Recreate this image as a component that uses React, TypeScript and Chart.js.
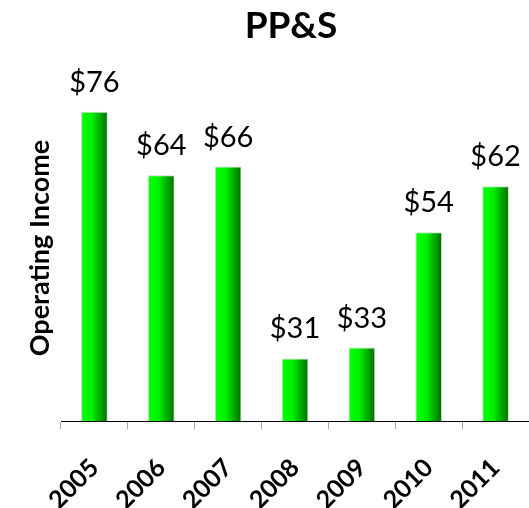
import React, { useEffect, useRef } from "react";
import { Chart, registerables } from "chart.js";

Chart.register(...registerables);

const categories = ["2005", "2006", "2007", "2008", "2009", "2010", "2011"];
const operatingIncome = [76, 64.4, 66, 31, 33, 54, 62.4];
const yMin = 19.6;
const yMax = 79.6;
const chartTitle = "PP&S";
const yAxisTitle = "Operating Income";

export default function App() {
  const ref = useRef<HTMLCanvasElement | null>(null);

  useEffect(() => {
    const canvas = ref.current;
    if (!canvas) return;

    const labelPlugin = {
      id: "customText",
      afterDatasetsDraw(chart: any) {
        const ctx = chart.ctx;
        ctx.save();
        const meta = chart.getDatasetMeta(0);
        ctx.fillStyle = "#000";
        ctx.font = "29px Lato";
        ctx.textAlign = "center";
        ctx.textBaseline = "alphabetic";
        meta.data.forEach((bar: any, i: number) => {
          const v = chart.data.datasets[0].data[i];
          ctx.fillText("$" + Math.round(v), bar.x, bar.y - 20);
        });
        ctx.font = "bold 37px Lato";
        ctx.textAlign = "center";
        ctx.fillText(chartTitle, 291, 38);
        ctx.translate(40, 248);
        ctx.rotate(-Math.PI / 2);
        ctx.font = "bold 27px Lato";
        ctx.textBaseline = "middle";
        ctx.fillText(yAxisTitle, 0, 0);
        ctx.restore();
      },
    };

    const chart = new Chart(canvas, {
      type: "bar",
      data: {
        labels: categories,
        datasets: [
          {
            data: operatingIncome,
            barPercentage: 0.4,
            categoryPercentage: 1.0,
            borderWidth: 1,
            borderColor: "rgba(170,210,170,0.7)",
            backgroundColor: (c: any) => {
              const ch = c.chart;
              const xs = ch.scales && ch.scales.x;
              if (!ch.chartArea || !xs || c.dataIndex === undefined) return "#00ee00";
              const cx = xs.getPixelForValue(c.dataIndex);
              const w = ((ch.chartArea.right - ch.chartArea.left) / categories.length) * 0.4;
              const g = ch.ctx.createLinearGradient(cx - w / 2, 0, cx + w / 2, 0);
              g.addColorStop(0, "#22ff22");
              g.addColorStop(0.08, "#00ff00");
              g.addColorStop(0.4, "#00f200");
              g.addColorStop(1, "#006a00");
              return g;
            },
          },
        ],
      },
      options: {
        animation: false,
        responsive: false,
        devicePixelRatio: 1,
        layout: { padding: { top: 92, left: 61, right: 0, bottom: 0 } },
        plugins: { legend: { display: false }, title: { display: false }, tooltip: { enabled: false } },
        scales: {
          y: { display: false, min: yMin, max: yMax },
          x: {
            offset: true,
            afterFit: (scale: any) => {
              scale.height = 87;
              scale.paddingLeft = 0;
              scale.paddingRight = 0;
            },
            grid: {
              offset: true,
              drawOnChartArea: false,
              drawTicks: true,
              tickLength: 8,
              color: "#a6a6a6",
            },
            border: { display: true, color: "#000", width: 1 },
            ticks: {
              maxRotation: 45,
              minRotation: 45,
              padding: 24,
              color: "#000",
              font: { family: "Lato", size: 25, weight: "bold" },
            },
          },
        },
      },
      plugins: [labelPlugin],
    });

    return () => chart.destroy();
  }, []);

  return (
    <div style={{ position: "absolute", left: 0, top: 0, width: 529, height: 508, background: "#fff" }}>
      <canvas ref={ref} width={529} height={508} />
    </div>
  );
}
